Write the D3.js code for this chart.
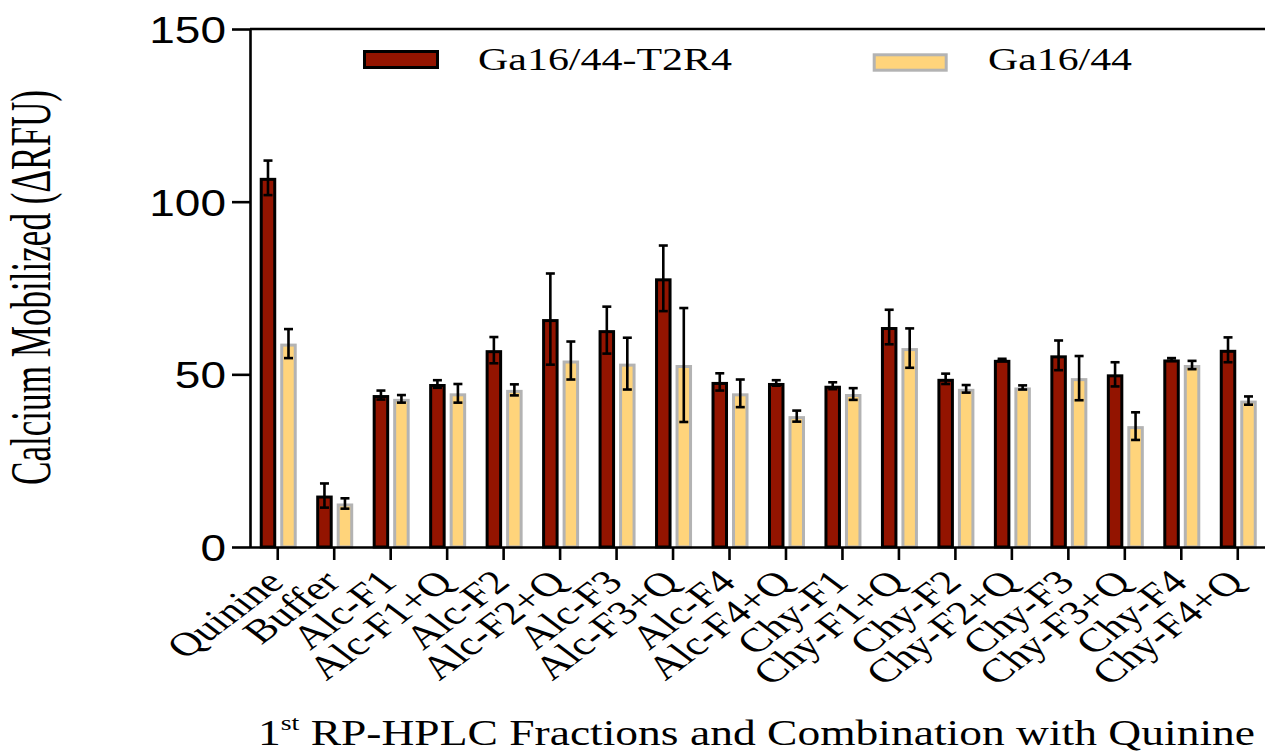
<!DOCTYPE html>
<html>
<head>
<meta charset="utf-8">
<script src="https://cdn.jsdelivr.net/npm/d3@7"></script>
<style>
  html, body { margin: 0; padding: 0; background: #fff; }
  svg { display: block; }
</style>
</head>
<body>
<svg id="chart" width="1265" height="753"></svg>
<script>
// Calcium mobilization (ΔRFU) for 1st RP-HPLC fractions, alone and combined with quinine
const categories = ["Quinine", "Buffer", "Alc-F1", "Alc-F1+Q", "Alc-F2", "Alc-F2+Q",
  "Alc-F3", "Alc-F3+Q", "Alc-F4", "Alc-F4+Q", "Chy-F1", "Chy-F1+Q",
  "Chy-F2", "Chy-F2+Q", "Chy-F3", "Chy-F3+Q", "Chy-F4", "Chy-F4+Q"];

const seriesNames = ["Ga16/44-T2R4", "Ga16/44"];

const t2r4Values = [106.9, 14.9, 44.0, 47.2, 57.0, 66.0, 62.8, 77.8, 47.8, 47.5,
  46.7, 63.7, 48.7, 54.2, 55.5, 50.0, 54.3, 57.1];
const t2r4Errors = [5.0, 3.5, 1.3, 1.1, 3.8, 13.2, 6.8, 9.5, 2.5, 0.8,
  1.0, 5.0, 1.5, 0.3, 4.3, 3.5, 0.4, 3.6];

const gaValues = [58.9, 12.6, 42.9, 44.5, 45.5, 54.0, 53.1, 52.7, 44.5, 37.9,
  44.3, 57.6, 45.8, 46.2, 48.9, 35.0, 52.7, 42.4];
const gaErrors = [4.2, 1.5, 1.1, 2.7, 1.6, 5.5, 7.5, 16.5, 4.0, 1.6,
  1.7, 5.7, 1.1, 0.6, 6.4, 4.0, 1.2, 1.2];

const yTicks = [0, 50, 100, 150];

const yTitle = "Calcium Mobilized (\u0394RFU)";

// ---- layout & style ----
const fills = ["#931400", "#ffd47b"];
const strokes = ["#000000", "#b3b3b3"];
const serif = "'Liberation Serif', 'Times New Roman', serif";
const sans = "'Liberation Sans', Arial, sans-serif";

const svg = d3.select("#chart");

const y = d3.scaleLinear().domain([0, 150]).range([547, 29]);
const x0 = d3.scaleBand().domain(categories).range([249.5, 1266]).padding(0);
const x1 = d3.scaleBand().domain(seriesNames).range([-18, 19]).paddingInner(0.195).paddingOuter(0);

const rows = categories.map((c, i) => ({
  category: c,
  items: [
    { key: seriesNames[0], value: t2r4Values[i], err: t2r4Errors[i], s: 0 },
    { key: seriesNames[1], value: gaValues[i], err: gaErrors[i], s: 1 }
  ]
}));

// bars
const groups = svg.append("g").selectAll("g.group")
  .data(rows).join("g")
  .attr("class", "group")
  .attr("transform", d => `translate(${x0(d.category) + x0.bandwidth() / 2},0)`);

const sw = 3;
groups.selectAll("rect")
  .data(d => d.items).join("rect")
  .attr("x", d => x1(d.key) + sw / 2)
  .attr("width", x1.bandwidth() - sw)
  .attr("y", d => y(d.value) + sw / 2)
  .attr("height", d => y(0) - y(d.value) - sw / 2)
  .attr("fill", d => fills[d.s])
  .attr("stroke", d => strokes[d.s])
  .attr("stroke-width", sw);

// error bars
const capHalf = 4.5;
const eb = groups.selectAll("g.err")
  .data(d => d.items).join("g")
  .attr("class", "err")
  .attr("transform", d => `translate(${x1(d.key) + x1.bandwidth() / 2},0)`)
  .attr("stroke", "#000")
  .attr("stroke-width", 2.6);
eb.append("line")
  .attr("y1", d => y(d.value + d.err)).attr("y2", d => y(d.value - d.err));
eb.append("line")
  .attr("x1", -capHalf).attr("x2", capHalf)
  .attr("y1", d => y(d.value + d.err)).attr("y2", d => y(d.value + d.err));
eb.append("line")
  .attr("x1", -capHalf).attr("x2", capHalf)
  .attr("y1", d => y(d.value - d.err)).attr("y2", d => y(d.value - d.err));

// y axis
const yAxis = svg.append("g")
  .attr("transform", "translate(250,0)")
  .call(d3.axisLeft(y).tickValues(yTicks).tickSize(18).tickSizeOuter(0).tickFormat(d3.format("d")));
yAxis.selectAll("path, line").attr("stroke", "#000").attr("stroke-width", 2.6);
yAxis.selectAll("text")
  .attr("x", null).attr("dy", null)
  .attr("transform", "translate(-24,13.5) scale(1.22,1)")
  .attr("text-anchor", "end")
  .attr("font-family", sans)
  .attr("font-size", 37.7)
  .attr("fill", "#000");

// top frame line
svg.append("line")
  .attr("x1", 250).attr("x2", 1265)
  .attr("y1", y(150)).attr("y2", y(150))
  .attr("stroke", "#000").attr("stroke-width", 2.6);

// x axis
const xAxis = svg.append("g")
  .attr("transform", `translate(0,${y(0)})`)
  .call(d3.axisBottom(x0).tickSize(13).tickSizeOuter(0));
xAxis.selectAll("path, line").attr("stroke", "#000").attr("stroke-width", 2.6);
xAxis.selectAll("text")
  .attr("y", null).attr("dy", null)
  .attr("transform", "translate(8,37) scale(1.32,1) rotate(-45)")
  .attr("text-anchor", "end")
  .attr("font-family", serif)
  .attr("font-size", 33.5)
  .attr("fill", "#000");

// y title
svg.append("text")
  .attr("transform", "translate(50,287.5) scale(1.6,1) rotate(-90)")
  .attr("text-anchor", "middle")
  .attr("font-family", serif)
  .attr("font-size", 35)
  .attr("textLength", 395)
  .attr("lengthAdjust", "spacingAndGlyphs")
  .text(yTitle);

// x title with superscript
const xt = svg.append("text")
  .attr("x", 258).attr("y", 745)
  .attr("font-family", serif)
  .attr("font-size", 36)
  .attr("textLength", 997)
  .attr("lengthAdjust", "spacingAndGlyphs");
xt.append("tspan").text("1");
xt.append("tspan").attr("font-size", 22).attr("dy", -15).text("st");
xt.append("tspan").attr("dy", 15).text(" RP-HPLC Fractions and Combination with Quinine");

// legend
const legendItems = [
  { name: seriesNames[0], s: 0, rx: 364.5, ry: 51.5, rw: 73, rh: 16, tx: 478, ty: 70, tl: 254 },
  { name: seriesNames[1], s: 1, rx: 874.2, ry: 54.8, rw: 72, rh: 15.4, tx: 988, ty: 69.5, tl: 144 }
];
const lg = svg.append("g").selectAll("g").data(legendItems).join("g");
lg.append("rect")
  .attr("x", d => d.rx).attr("y", d => d.ry)
  .attr("width", d => d.rw).attr("height", d => d.rh)
  .attr("fill", d => fills[d.s])
  .attr("stroke", d => strokes[d.s])
  .attr("stroke-width", sw);
lg.append("text")
  .attr("x", d => d.tx).attr("y", d => d.ty)
  .attr("font-family", serif)
  .attr("font-size", 32.5)
  .attr("textLength", d => d.tl)
  .attr("lengthAdjust", "spacingAndGlyphs")
  .text(d => d.name);
</script>
</body>
</html>
